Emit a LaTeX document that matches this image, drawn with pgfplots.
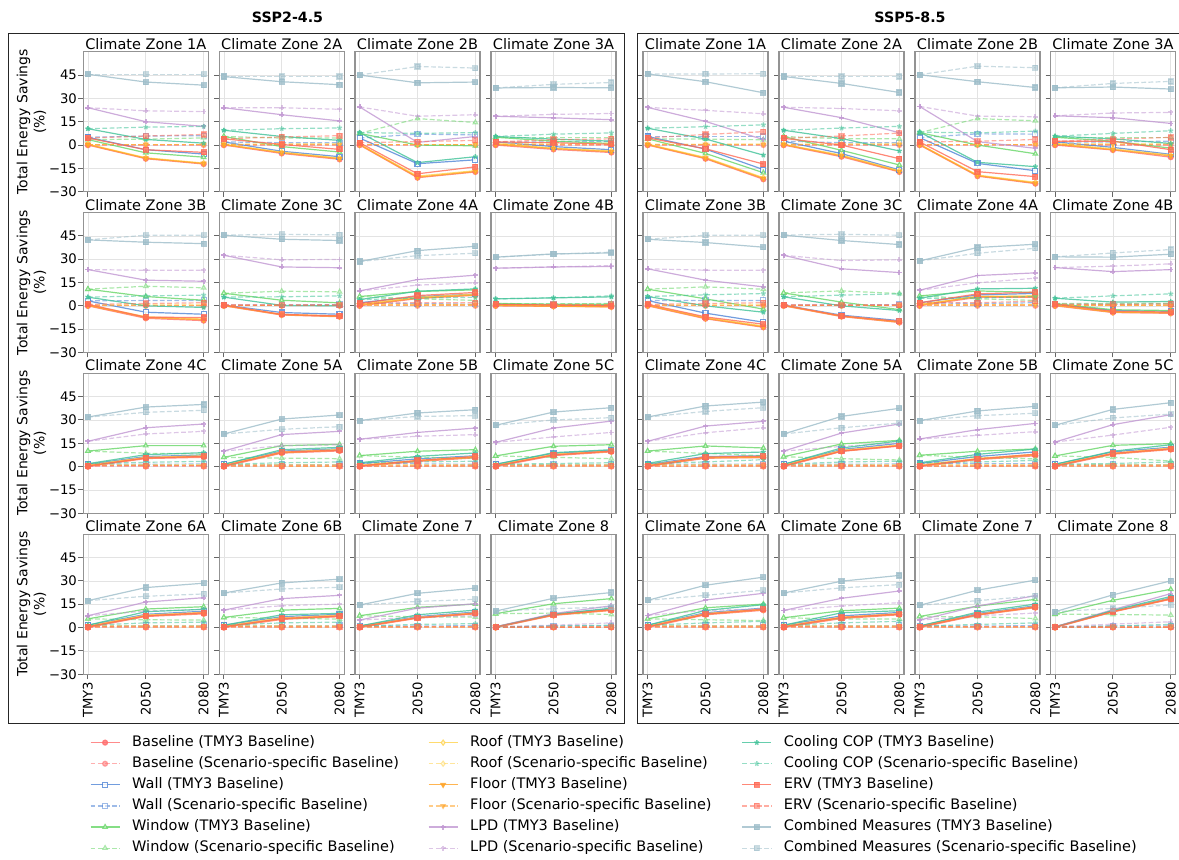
\documentclass[border=0pt]{standalone}
\usepackage{fontspec}
\setmainfont{DejaVu Sans}
\usepackage{pgfplots}
\usepackage{pgfplotstable}
\pgfplotsset{compat=1.18}

\definecolor{cBase}{HTML}{FF6E6E}
\definecolor{cWall}{HTML}{4F84D6}
\definecolor{cWin}{HTML}{66D666}
\definecolor{cRoof}{HTML}{FFD24A}
\definecolor{cFloor}{HTML}{FFA326}
\definecolor{cLPD}{HTML}{C197D2}
\definecolor{cCOP}{HTML}{40C298}
\definecolor{cERV}{HTML}{FF6A55}
\definecolor{cComb}{HTML}{9DBDC9}

% ---------------- data: SSP2-4.5 ----------------
\pgfplotstableread{
x bT bS wT wS nT nS rT rS fT fS lT lS cT cS eT eS mT mS
0 0 0 5 5 3.5 3.5 0.6 0.6 0.3 0.3 24 24 10.5 10.5 4.5 4.5 45.5 45.5
1 -8.8 0 -3 5.8 -5 3.8 -8.2 0.6 -8.5 0.3 15 22 3.6 11.5 -3 5.8 40.5 45.5
2 -12.2 0 -5.8 6 -7.8 4.6 -11.6 0.6 -11.9 0.3 12 21.5 1.2 12 -4.7 6.8 38.5 45.5
}\tLa
\pgfplotstableread{
x bT bS wT wS nT nS rT rS fT fS lT lS cT cS eT eS mT mS
0 0 0 2 2 5.5 5.5 0.5 0.5 0.3 0.3 24 24 9.5 9.5 4 4 44 44
1 -5.4 0 -4 1.5 -1 4.5 -4.6 0.8 -5 0.3 19.5 24 5.5 10.5 0.4 5.2 40.7 44
2 -9.2 0 -7.5 1.5 -4.5 4.5 -8.4 0.8 -8.8 0.3 15.5 23 3 11 -2.8 6 38.8 44
}\tLb
\pgfplotstableread{
x bT bS wT wS nT nS rT rS fT fS lT lS cT cS eT eS mT mS
0 0 0 4.5 4.5 7.5 7.5 0.5 0.5 0.3 0.3 24.5 24.5 8 8 1.5 1.5 45 45
1 -21 0 -12 7 0 17 -20 0.5 -20.7 0.3 1.7 18.5 -11.3 7.5 -18.5 2.2 40 50.5
2 -17.3 0 -9.5 6.5 -0.5 14.5 -16.5 0.5 -17 0.3 5.5 19.5 -7.5 8 -14 3 40.5 49.5
}\tLc
\pgfplotstableread{
x bT bS wT wS nT nS rT rS fT fS lT lS cT cS eT eS mT mS
0 0 0 2 2 5 5 1 1 0.5 0.5 18.5 18.5 5.5 5.5 2 2 36.7 36.7
1 -2.8 0 -1 2 2.5 5 -2 1 -2.3 0.5 17.5 19.7 3.8 7 1.5 3.5 37 39
2 -4.8 0 -3 2.5 1 5 -3.8 1.2 -4.3 0.5 16.3 20.3 2.5 7.8 0.5 4 36.8 40.2
}\tLd
\pgfplotstableread{
x bT bS wT wS nT nS rT rS fT fS lT lS cT cS eT eS mT mS
0 0 0 3.2 3.2 10.7 10.7 0.6 0.6 0.3 0.3 23.3 23.3 5.6 5.6 1 1 42.4 42.4
1 -8 0 -4.1 3.4 6 12.6 -7 0.8 -7.5 0.3 16.5 22.9 0 6.4 -7.3 1.5 40.9 45.4
2 -9.5 0 -5.4 3.5 3.6 11.6 -8.5 0.8 -9 0.3 15.8 22.9 -1 6.9 -7.5 2 40 45.4
}\tLe
\pgfplotstableread{
x bT bS wT wS nT nS rT rS fT fS lT lS cT cS eT eS mT mS
0 0 0 0.5 0.5 8.1 8.1 0.3 0.3 0.2 0.2 32.5 32.5 5.6 5.6 0.5 0.5 45.4 45.4
1 -5.9 0 -4.3 0.5 3.6 9.4 -5.5 0.3 -5.7 0.2 25 29.6 0.3 5.8 -5.5 0.5 42.8 46
2 -7 0 -5.4 0.8 1.9 9 -6.5 0.3 -6.8 0.2 24.5 29.8 0 6.4 -6.5 0.5 42 45.6
}\tLf
\pgfplotstableread{
x bT bS wT wS nT nS rT rS fT fS lT lS cT cS eT eS mT mS
0 0 0 2 2 6 6 1 1 0.5 0.5 9.6 9.6 4 4 1.5 1.5 28.5 28.5
1 4.7 0 6 1.5 9.2 4.5 5.5 1 5 0.5 16.9 13.3 9.4 5 6.6 2 35.5 32.3
2 6.8 0 7.5 1 10.3 3.5 7.5 1 7 0.5 19.7 14.8 10.9 5.5 8.6 2 38.3 33.8
}\tLg
\pgfplotstableread{
x bT bS wT wS nT nS rT rS fT fS lT lS cT cS eT eS mT mS
0 0 0 1 1 1.5 1.5 0.5 0.5 0.3 0.3 24.2 24.2 4.5 4.5 1 1 31.3 31.3
1 -0.3 0 0.5 0.8 1 1.3 0 0.5 -0.2 0.2 25 25 5.1 5.2 0.5 1 33.4 33.2
2 -0.7 0 0.3 1 1 1.5 -0.5 0.5 -0.6 0.2 25.3 25.9 5.8 6.4 0 1 34 34.5
}\tLh
\pgfplotstableread{
x bT bS wT wS nT nS rT rS fT fS lT lS cT cS eT eS mT mS
0 0 0 1.5 1.5 10 10 1 1 0.5 0.5 16.3 16.3 1.9 1.9 0.5 0.5 31.9 31.9
1 5.2 0 6.5 1.5 13.5 8.6 6 1 5.5 0.5 25 21 7.7 2.8 5.6 0.5 38.3 34.9
2 6 0 7.5 1.7 13.5 8.1 7 1 6.5 0.5 27.4 22.7 9 3.4 6.6 0.5 40 36.2
}\tLi
\pgfplotstableread{
x bT bS wT wS nT nS rT rS fT fS lT lS cT cS eT eS mT mS
0 0 0 1.5 1.5 6 6 1 1 0.5 0.5 10 10 1.5 1.5 0.5 0.5 21 21
1 8.7 0 10 1.5 13.5 5.5 9.5 1 9 0.3 20.6 13.5 10.9 2.5 9.3 0.5 30.6 24
2 10.1 0 11.5 1.5 14.3 5.1 11 1 10.5 0.3 22.7 14.1 12.4 3 10.6 0.5 33.2 25.7
}\tLj
\pgfplotstableread{
x bT bS wT wS nT nS rT rS fT fS lT lS cT cS eT eS mT mS
0 0 0 2 2 7.1 7.1 1 1 0.5 0.5 17.6 17.6 2.5 2.5 0.5 0.5 29.6 29.6
1 3.3 0 5 1.8 9.9 6 4 1 3.7 0.4 22 19.5 6.6 3 4 0.5 34.5 32.3
2 5.7 0 7 1.5 10.9 5.5 6.5 1 6 0.4 24.8 20.6 8.8 3.5 6.5 0.8 36.6 32.8
}\tLk
\pgfplotstableread{
x bT bS wT wS nT nS rT rS fT fS lT lS cT cS eT eS mT mS
0 0 0 1.5 1.5 6.9 6.9 1 1 0.5 0.5 15.6 15.6 1.5 1.5 0.5 0.5 26.6 26.6
1 7.1 0 8.5 1.5 13.1 6 8 1 7.5 0.4 24.8 19.1 9 2 7.5 0.5 35.1 30
2 9.5 0 10.5 1.5 14.1 5.1 10 1 9.8 0.4 29.3 22 10.9 2.5 10 0.5 37.9 31.5
}\tLl
\pgfplotstableread{
x bT bS wT wS nT nS rT rS fT fS lT lS cT cS eT eS mT mS
0 0 0 1.5 1.5 5.6 5.6 1 1 0.5 0.5 7.6 7.6 1.5 1.5 0.5 0.5 17.3 17.3
1 7.1 0 8.5 1.5 11.9 5 8 1 7.5 0.4 16.4 10.6 10.2 3 7.5 0.5 25.7 20.1
2 8.8 0 10.5 1.5 13.4 4.8 9.8 1 9.2 0.4 19.2 11.7 11.7 3.5 9.5 0.5 28.5 21.6
}\tLm
\pgfplotstableread{
x bT bS wT wS nT nS rT rS fT fS lT lS cT cS eT eS mT mS
0 0 0 1.5 1.5 6.5 6.5 1 1 0.5 0.5 11.2 11.2 1.5 1.5 0.5 0.5 22.2 22.2
1 5.2 0 7 1.5 11.2 6 6.2 1 5.6 0.4 18.6 14 8.2 3 5.8 0.5 28.7 24.8
2 7 0 8.5 1.5 12.3 5.4 8 1 7.3 0.4 20.7 15.1 9.1 3.5 7.5 0.5 31.1 25.9
}\tLn
\pgfplotstableread{
x bT bS wT wS nT nS rT rS fT fS lT lS cT cS eT eS mT mS
0 0 0 1 1 7.6 7.6 0.8 0.8 0.4 0.4 4.8 4.8 1 1 0.5 0.5 14.5 14.5
1 6 0 7 1 13 6.9 6.5 0.8 6.2 0.3 12.5 6.7 8.2 2 6.3 0.5 22 16.8
2 8.8 0 10 1.2 15.1 6.7 9.5 0.8 9 0.3 15.3 7.6 11.2 2.5 9.2 0.5 25.3 18.1
}\tLo
\pgfplotstableread{
x bT bS wT wS nT nS rT rS fT fS lT lS cT cS eT eS mT mS
0 0 0 0.5 0.5 8.9 8.9 0.5 0.5 0.2 0.2 0.5 0.5 0.3 0.3 0.3 0.3 10.6 10.6
1 7.8 0 8.5 1 15.3 9.3 8.3 0.5 8 0.2 9 1.5 8.5 1 8.2 0.3 18.8 12.1
2 11 0 12 1 18.6 8.4 11.5 0.5 11.2 0.2 14 3 12.5 1.5 11.5 0.3 22.5 13.2
}\tLp

% ---------------- data: SSP5-8.5 ----------------
\pgfplotstableread{
x bT bS wT wS nT nS rT rS fT fS lT lS cT cS eT eS mT mS
0 0 0 5.5 5.5 4 4 0.6 0.6 0.3 0.3 24.2 24.2 10.8 10.8 4.6 4.6 45.7 45.7
1 -8.8 0 -2.6 5.5 -5.4 3.8 -8 0.6 -8.5 0.3 15.2 22.3 3.9 11.8 -2.4 6.8 40.7 45.7
2 -22 0 -15.8 5.5 -17.8 3.4 -21 0.7 -21.5 0.3 3.5 20.1 -6.5 13 -12.2 8.6 33.6 45.8
}\tRa
\pgfplotstableread{
x bT bS wT wS nT nS rT rS fT fS lT lS cT cS eT eS mT mS
0 0 0 2.5 2.5 5.5 5.5 0.5 0.5 0.3 0.3 24.3 24.3 9.5 9.5 4.3 4.3 44.1 44.1
1 -7.5 0 -5.5 1.5 -3.4 4 -6.5 0.8 -7 0.3 17.6 23.5 4.2 10.9 0 5.8 39.6 44.1
2 -17.3 0 -16 1.5 -12.8 4 -16.5 1 -17 0.3 7.9 22 -3.8 12 -8.8 7.7 33.8 44.1
}\tRb
\pgfplotstableread{
x bT bS wT wS nT nS rT rS fT fS lT lS cT cS eT eS mT mS
0 0 0 4.8 4.8 8 8 0.5 0.5 0.3 0.3 24.8 24.8 8.3 8.3 2 2 45.2 45.2
1 -20 0 -11.8 7.2 0 17 -19.3 0.5 -19.7 0.3 2.2 18.6 -11.1 7.8 -17.1 2.4 40.7 50.7
2 -24.8 0 -16.5 7 -5.6 15.6 -24 0.5 -24.5 0.3 -2.1 18.2 -13.9 9 -20.3 3.6 37 49.7
}\tRc
\pgfplotstableread{
x bT bS wT wS nT nS rT rS fT fS lT lS cT cS eT eS mT mS
0 0 0 2 2 5 5 1 1 0.5 0.5 18.8 18.8 5.7 5.7 2.4 2.4 36.8 36.8
1 -3.2 0 -1.5 2 2.5 5 -2.5 1 -3 0.5 17.6 20.6 4 7.5 2.5 3.8 37.3 39.6
2 -7.8 0 -6 2.5 -2 5 -6.5 1 -7 0.5 13.9 21 1 9.2 -3 4.9 36 40.9
}\tRd
\pgfplotstableread{
x bT bS wT wS nT nS rT rS fT fS lT lS cT cS eT eS mT mS
0 0 0 3.4 3.4 10.7 10.7 0.6 0.6 0.3 0.3 23.8 23.8 6 6 1 1 42.8 42.8
1 -8.3 0 -4.7 3.4 4.5 12.2 -7.5 0.8 -8 0.3 16.5 22.9 0 7.1 -7.1 1.5 40.7 45.4
2 -13.8 0 -10.5 3.5 -2.1 10.7 -13 0.8 -13.5 0.3 12.2 22.9 -4.1 7.9 -11.8 2 37.7 45.4
}\tRe
\pgfplotstableread{
x bT bS wT wS nT nS rT rS fT fS lT lS cT cS eT eS mT mS
0 0 0 0.5 0.5 8.3 8.3 0.3 0.3 0.2 0.2 32.5 32.5 5.8 5.8 0.5 0.5 45.5 45.5
1 -6.9 0 -6 0.5 2.4 9.6 -6.5 0.3 -6.7 0.2 23.8 29.1 0 6.9 -6.5 0.5 42 46
2 -10.7 0 -9.5 0.8 -2.4 7.9 -10.2 0.3 -10.5 0.2 21.4 29.6 -3 7.7 -10 0.5 39.4 45.4
}\tRf
\pgfplotstableread{
x bT bS wT wS nT nS rT rS fT fS lT lS cT cS eT eS mT mS
0 0 0 2 2 6.4 6.4 1 1 0.5 0.5 10 10 4.9 4.9 2 2 28.9 28.9
1 5.5 0 7 1.5 9.6 4.5 6 1 6 0.5 19.5 14.8 10.9 5 7.7 2 37.5 33.8
2 5.5 0 8 2 8.6 3.5 6.5 1 5.8 0.5 21.2 17.8 11.3 6 8.8 3 39.6 37
}\tRg
\pgfplotstableread{
x bT bS wT wS nT nS rT rS fT fS lT lS cT cS eT eS mT mS
0 0 0 1 1 1.5 1.5 0.5 0.5 0.3 0.3 24.6 24.6 4.9 4.9 1 1 31.5 31.5
1 -4.3 0 -3 1 -2.5 1.5 -3.8 0.5 -4.1 0.3 22 25.5 2.4 6.4 -3.5 1 31.3 34
2 -4.8 0 -3.5 1.2 -3 1.7 -4.3 0.5 -4.5 0.3 23.3 27 2.8 7.7 -4 1.2 33.2 36.2
}\tRh
\pgfplotstableread{
x bT bS wT wS nT nS rT rS fT fS lT lS cT cS eT eS mT mS
0 0 0 1.5 1.5 10 10 1 1 0.5 0.5 16.3 16.3 2.1 2.1 0.5 0.5 31.9 31.9
1 5.4 0 6.5 1.5 13.3 8.5 6 1 5.7 0.4 26.1 21.8 8.4 3 6.2 0.5 39 35.5
2 5.8 0 7 1.7 12 7 6.5 1 6 0.4 29.1 25 9.4 4.5 6.6 0.8 41.5 37.9
}\tRi
\pgfplotstableread{
x bT bS wT wS nT nS rT rS fT fS lT lS cT cS eT eS mT mS
0 0 0 1.5 1.5 6.4 6.4 1 1 0.5 0.5 10 10 1.5 1.5 0.5 0.5 21 21
1 9.8 0 11 1.5 14.6 5.1 10.5 1 10 0.4 21.6 13 12 3 10 0.5 32.3 25
2 13.2 0 15 1.7 16.9 4.3 14 1 13.5 0.4 27.4 15.2 16.5 3.5 13.5 0.5 37.5 28
}\tRj
\pgfplotstableread{
x bT bS wT wS nT nS rT rS fT fS lT lS cT cS eT eS mT mS
0 0 0 2 2 7.3 7.3 1 1 0.5 0.5 17.8 17.8 2.5 2.5 0.5 0.5 29.6 29.6
1 4.5 0 6.5 1.8 9.9 6 5.3 1 4.8 0.4 23.8 20.1 7.9 3 5 0.5 35.8 32.8
2 7 0 9.5 1.8 11.4 5 8 1 7.5 0.4 27.8 22.5 11.3 4 8 0.8 38.8 34.3
}\tRk
\pgfplotstableread{
x bT bS wT wS nT nS rT rS fT fS lT lS cT cS eT eS mT mS
0 0 0 1.5 1.5 6.9 6.9 1 1 0.5 0.5 15.8 15.8 1.5 1.5 0.5 0.5 26.6 26.6
1 8 0 9.5 1.5 13.7 6 8.7 1 8.3 0.4 27 20.3 9.9 2 8.5 0.5 36.8 31.3
2 11 0 12.5 1.5 14.8 3.6 12 1 11.3 0.4 33.4 25.3 14.1 3 11.5 0.5 41.1 33.8
}\tRl
\pgfplotstableread{
x bT bS wT wS nT nS rT rS fT fS lT lS cT cS eT eS mT mS
0 0 0 1.5 1.5 5.6 5.6 1 1 0.5 0.5 7.8 7.8 1.5 1.5 0.5 0.5 17.5 17.5
1 8.2 0 9.5 1.5 12.7 5 9 1 8.5 0.4 17.7 11 11 3 8.7 0.5 27.2 20.7
2 11.1 0 12.5 1.5 15.1 4.5 12 1 11.5 0.4 22 12 14.7 4 11.8 0.5 32.4 24
}\tRm
\pgfplotstableread{
x bT bS wT wS nT nS rT rS fT fS lT lS cT cS eT eS mT mS
0 0 0 1.5 1.5 6.3 6.3 1 1 0.5 0.5 11 11 1.5 1.5 0.5 0.5 22.2 22.2
1 5.8 0 7.5 1.5 10.8 5.5 6.7 1 6.2 0.4 18.8 13.8 9.5 3 6.5 0.5 29.8 25.5
2 8.2 0 9.7 1.5 12.5 5.5 9 1 8.5 0.4 23.5 16 10.8 4 8.7 0.5 33.5 27.6
}\tRn
\pgfplotstableread{
x bT bS wT wS nT nS rT rS fT fS lT lS cT cS eT eS mT mS
0 0 0 1 1 7.1 7.1 0.8 0.8 0.4 0.4 4.8 4.8 1 1 0.5 0.5 14.3 14.3
1 7.9 0 9 1 13.8 6.9 8.5 0.8 8.2 0.3 13.8 7.6 9.9 2 8.3 0.5 24 17.3
2 12.8 0 14 1.2 18.1 5.8 13.5 0.8 13 0.3 20.5 9.3 15.1 3 13.3 0.5 30.5 20.3
}\tRo
\pgfplotstableread{
x bT bS wT wS nT nS rT rS fT fS lT lS cT cS eT eS mT mS
0 0 0 0.5 0.5 8.6 8.6 0.5 0.5 0.2 0.2 0.5 0.5 0.3 0.3 0.3 0.3 10.2 10.2
1 10 0 10.7 1 17.5 8.4 10.5 0.5 10.2 0.2 11.5 2.2 11 1 10.3 0.3 21 12.3
2 18.2 0 19 1 24.6 8 18.7 0.5 18.4 0.2 21.8 3.7 20 2 18.5 0.3 30 14.5
}\tRp

\pgfplotsset{
  Tl/.style={line width=0.6pt, solid, opacity=0.8, mark size=1.25pt},
  Sl/.style={line width=0.6pt, dash pattern=on 2.4pt off 1.2pt, opacity=0.55, mark size=1.25pt},
  Tb/.style={Tl, color=cBase, mark=*, mark options={solid}},
  Sb/.style={Sl, color=cBase, mark=*, mark options={solid}},
  Tw/.style={Tl, color=cWall, mark=square*, mark options={solid, fill=white}},
  Sw/.style={Sl, color=cWall, mark=square*, mark options={solid, fill=white}},
  Tn/.style={Tl, color=cWin, mark=triangle*, mark options={solid, fill=white}},
  Sn/.style={Sl, color=cWin, mark=triangle*, mark options={solid, fill=white}},
  Tr/.style={Tl, color=cRoof, mark=diamond*, mark options={solid, fill=white}},
  Sr/.style={Sl, color=cRoof, mark=diamond*, mark options={solid, fill=white}},
  Tf/.style={Tl, color=cFloor, mark=triangle*, mark options={solid, rotate=180}},
  Sf/.style={Sl, color=cFloor, mark=triangle*, mark options={solid, rotate=180}},
  Tp/.style={Tl, color=cLPD, mark=+, mark options={solid, line width=0.9pt}},
  Sp/.style={Sl, color=cLPD, mark=+, mark options={solid, line width=0.9pt}},
  Tc/.style={Tl, color=cCOP, mark=star, mark options={solid, line width=0.7pt}},
  Sc/.style={Sl, color=cCOP, mark=star, mark options={solid, line width=0.7pt}},
  Te/.style={Tl, color=cERV, mark=square*, mark options={solid}},
  Se/.style={Sl, color=cERV, mark=square*, mark options={solid}},
  Tm/.style={Tl, color=cComb, mark=square*, mark options={solid}},
  Sm/.style={Sl, color=cComb, mark=square*, mark options={solid}},
  panel/.style={
    scale only axis, width=62.5pt, height=70pt,
    xmin=-0.08, xmax=2.08, ymin=-30, ymax=60,
    xtick={0,1,2}, ytick={-30,-15,0,15,30,45},
    xticklabels={}, yticklabels={},
    tick pos=left,
    grid=major, major grid style={gray!22, line width=0.3pt},
    axis line style={gray!85, line width=0.6pt},
    tick align=outside, major tick length=2.4pt,
    tick style={gray!80!black, line width=0.5pt},
    every axis title shift=0pt,
    title style={font=\fontsize{7.25}{8}\selectfont, anchor=base, at={(0.5,1)}, yshift=1.2pt, inner sep=0pt},
    ticklabel style={font=\fontsize{6.6}{7.5}\selectfont},
    yticklabel style={inner sep=0.6pt},
    xticklabel style={rotate=90, anchor=east, inner sep=1.2pt},
  },
  leftcol/.style={
    yticklabels={−30,−15,0,15,30,45},
    ylabel={Total Energy Savings\\(\%)},
    ylabel style={at={(axis description cs:-0.414,0.5)}, anchor=center, align=center, font=\fontsize{7}{8.5}\selectfont},
  },
  bottomrow/.style={xticklabels={TMY3,2050,2080}},
}

\newcommand{\plotall}[1]{%
  \addplot[Tb] table[x=x,y=bT]{#1};
  \addplot[Sb] table[x=x,y=bS]{#1};
  \addplot[Tw] table[x=x,y=wT]{#1};
  \addplot[Sw] table[x=x,y=wS]{#1};
  \addplot[Tn] table[x=x,y=nT]{#1};
  \addplot[Sn] table[x=x,y=nS]{#1};
  \addplot[Tr] table[x=x,y=rT]{#1};
  \addplot[Sr] table[x=x,y=rS]{#1};
  \addplot[Tf] table[x=x,y=fT]{#1};
  \addplot[Sf] table[x=x,y=fS]{#1};
  \addplot[Tp] table[x=x,y=lT]{#1};
  \addplot[Sp] table[x=x,y=lS]{#1};
  \addplot[Tc] table[x=x,y=cT]{#1};
  \addplot[Sc] table[x=x,y=cS]{#1};
  \addplot[Te] table[x=x,y=eT]{#1};
  \addplot[Se] table[x=x,y=eS]{#1};
  \addplot[Tm] table[x=x,y=mT]{#1};
  \addplot[Sm] table[x=x,y=mS]{#1};
}

\newcommand{\panel}[5]{%
  \begin{axis}[panel, at={(#3,#4)}, anchor=north west, title={#2}, #5]
  \plotall{#1}
  \end{axis}}

\newcommand{\legcol}[1]{%
  \begin{axis}[hide axis, scale only axis, width=10pt, height=10pt,
    xmin=0, xmax=1, ymin=0, ymax=1, at={(#1,-367.9pt)}, anchor=north west,
    legend cell align=left,
    legend image code/.code={\draw[mark repeat=2, mark phase=2, ##1] plot coordinates {(0pt,0pt) (7.25pt,0pt) (14.5pt,0pt)};},
    legend style={at={(0,1)}, anchor=north west, draw=none, fill=none,
      inner sep=0pt, outer sep=0pt, row sep=3.75pt,
      font=\fontsize{7.25}{8}\selectfont,
      nodes={inner sep=0pt, text height=5.3pt, text depth=1.5pt},
      /tikz/every odd column/.append style={column sep=6pt}}]
}

\begin{document}
\begin{tikzpicture}
\useasboundingbox (0,0) rectangle (589.5pt,-429.5pt);

% group boxes and titles
\draw[line width=0.5pt, black!85] (4.15pt,-16.65pt) rectangle (312.4pt,-361.6pt);
\draw[line width=0.5pt, black!85] (318.5pt,-16.65pt) rectangle (591pt,-361.6pt);
\node[anchor=base, font=\bfseries\fontsize{7.1}{8}\selectfont] at (143.75pt,-11.15pt) {SSP2-4.5};
\node[anchor=base, font=\bfseries\fontsize{7.1}{8}\selectfont] at (455pt,-11.15pt) {SSP5-8.5};

% SSP2-4.5
\panel{\tLa}{Climate Zone 1A}{41.65pt}{-25.85pt}{leftcol}
\panel{\tLb}{Climate Zone 2A}{109.6pt}{-25.85pt}{}
\panel{\tLc}{Climate Zone 2B}{177.5pt}{-25.85pt}{}
\panel{\tLd}{Climate Zone 3A}{245.5pt}{-25.85pt}{}
\panel{\tLe}{Climate Zone 3B}{41.65pt}{-106.25pt}{leftcol}
\panel{\tLf}{Climate Zone 3C}{109.6pt}{-106.25pt}{}
\panel{\tLg}{Climate Zone 4A}{177.5pt}{-106.25pt}{}
\panel{\tLh}{Climate Zone 4B}{245.5pt}{-106.25pt}{}
\panel{\tLi}{Climate Zone 4C}{41.65pt}{-186.65pt}{leftcol}
\panel{\tLj}{Climate Zone 5A}{109.6pt}{-186.65pt}{}
\panel{\tLk}{Climate Zone 5B}{177.5pt}{-186.65pt}{}
\panel{\tLl}{Climate Zone 5C}{245.5pt}{-186.65pt}{}
\panel{\tLm}{Climate Zone 6A}{41.65pt}{-267.1pt}{leftcol,bottomrow}
\panel{\tLn}{Climate Zone 6B}{109.6pt}{-267.1pt}{bottomrow}
\panel{\tLo}{Climate Zone 7}{177.5pt}{-267.1pt}{bottomrow}
\panel{\tLp}{Climate Zone 8}{245.5pt}{-267.1pt}{bottomrow}

% SSP5-8.5
\panel{\tRa}{Climate Zone 1A}{321.5pt}{-25.85pt}{}
\panel{\tRb}{Climate Zone 2A}{389.5pt}{-25.85pt}{}
\panel{\tRc}{Climate Zone 2B}{457.5pt}{-25.85pt}{}
\panel{\tRd}{Climate Zone 3A}{525.2pt}{-25.85pt}{}
\panel{\tRe}{Climate Zone 3B}{321.5pt}{-106.25pt}{}
\panel{\tRf}{Climate Zone 3C}{389.5pt}{-106.25pt}{}
\panel{\tRg}{Climate Zone 4A}{457.5pt}{-106.25pt}{}
\panel{\tRh}{Climate Zone 4B}{525.2pt}{-106.25pt}{}
\panel{\tRi}{Climate Zone 4C}{321.5pt}{-186.65pt}{}
\panel{\tRj}{Climate Zone 5A}{389.5pt}{-186.65pt}{}
\panel{\tRk}{Climate Zone 5B}{457.5pt}{-186.65pt}{}
\panel{\tRl}{Climate Zone 5C}{525.2pt}{-186.65pt}{}
\panel{\tRm}{Climate Zone 6A}{321.5pt}{-267.1pt}{bottomrow}
\panel{\tRn}{Climate Zone 6B}{389.5pt}{-267.1pt}{bottomrow}
\panel{\tRo}{Climate Zone 7}{457.5pt}{-267.1pt}{bottomrow}
\panel{\tRp}{Climate Zone 8}{525.2pt}{-267.1pt}{bottomrow}

% legend
\legcol{45pt}
\addlegendimage{Tb}\addlegendentry{Baseline (TMY3 Baseline)}
\addlegendimage{Sb}\addlegendentry{Baseline (Scenario-specific Baseline)}
\addlegendimage{Tw}\addlegendentry{Wall (TMY3 Baseline)}
\addlegendimage{Sw}\addlegendentry{Wall (Scenario-specific Baseline)}
\addlegendimage{Tn}\addlegendentry{Window (TMY3 Baseline)}
\addlegendimage{Sn}\addlegendentry{Window (Scenario-specific Baseline)}
\end{axis}
\legcol{214pt}
\addlegendimage{Tr}\addlegendentry{Roof (TMY3 Baseline)}
\addlegendimage{Sr}\addlegendentry{Roof (Scenario-specific Baseline)}
\addlegendimage{Tf}\addlegendentry{Floor (TMY3 Baseline)}
\addlegendimage{Sf}\addlegendentry{Floor (Scenario-specific Baseline)}
\addlegendimage{Tp}\addlegendentry{LPD (TMY3 Baseline)}
\addlegendimage{Sp}\addlegendentry{LPD (Scenario-specific Baseline)}
\end{axis}
\legcol{370.85pt}
\addlegendimage{Tc}\addlegendentry{Cooling COP (TMY3 Baseline)}
\addlegendimage{Sc}\addlegendentry{Cooling COP (Scenario-specific Baseline)}
\addlegendimage{Te}\addlegendentry{ERV (TMY3 Baseline)}
\addlegendimage{Se}\addlegendentry{ERV (Scenario-specific Baseline)}
\addlegendimage{Tm}\addlegendentry{Combined Measures (TMY3 Baseline)}
\addlegendimage{Sm}\addlegendentry{Combined Measures (Scenario-specific Baseline)}
\end{axis}
\end{tikzpicture}
\end{document}
